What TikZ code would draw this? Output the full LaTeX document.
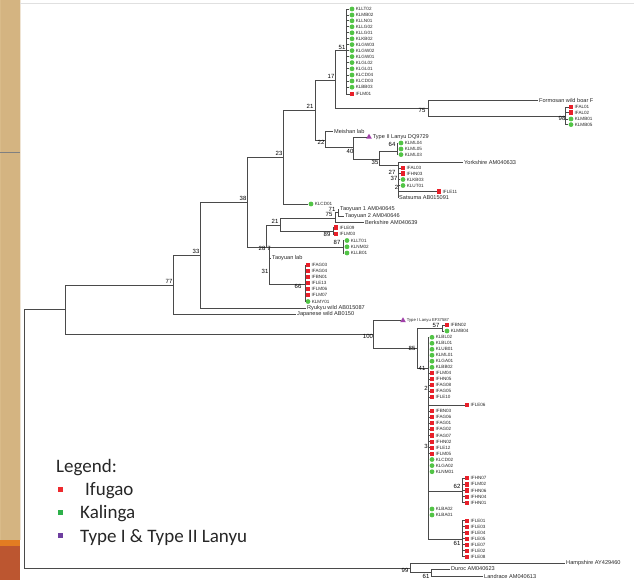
\documentclass[tikz,border=0pt]{standalone}
\usepackage{fontspec}
\setmainfont{Liberation Sans}
\newfontfamily\legfont{Carlito}
\usetikzlibrary{shapes.geometric}
\definecolor{ifred}{HTML}{E8202A}
\definecolor{klgreen}{HTML}{52C446}
\definecolor{lanyu}{HTML}{A040A8}
\definecolor{branch}{HTML}{4A4A4A}
\definecolor{wood}{HTML}{E0C594}
\definecolor{woodd}{HTML}{C9A571}
\definecolor{band}{HTML}{E27C22}
\definecolor{brick}{HTML}{BC5630}
\definecolor{legred}{HTML}{EE2A2E}
\definecolor{leggreen}{HTML}{2DB04A}
\definecolor{legpurple}{HTML}{6E3FA0}
\tikzset{
  br/.style={draw=branch, line width=0.75pt},
  rsq/.style={fill=ifred, minimum width=4.6pt, minimum height=4.2pt, inner sep=0pt},
  gdot/.style={circle, fill=klgreen, minimum size=4.8pt, inner sep=0pt},
  ptri/.style={regular polygon, regular polygon sides=3, fill=lanyu, minimum size=6.5pt, inner sep=0pt},
  idtx/.style={font=\fontsize{4.6}{5}\selectfont, inner sep=0pt, anchor=west, text=black!85},
  nmtx/.style={font=\fontsize{5.6}{6}\selectfont, inner xsep=1pt, inner ysep=0pt, anchor=west, text=black!85},
  bs/.style={font=\fontsize{6}{6}\selectfont, inner sep=0pt, text=black},
  leg/.style={font=\legfont\fontsize{19}{23}\selectfont, inner sep=0pt, anchor=base west, text=black!85},
  lsq/.style={minimum size=5pt, inner sep=0pt},
}
\newcommand\gleaf[4]{\node[gdot] (#2) at (#3,#4) {}; \node[idtx] (#2-t) at ([xshift=1pt]#2.east) {#2}; \draw[br] (#1) |- (#2);}
\newcommand\rleaf[4]{\node[rsq] (#2) at (#3,#4) {}; \node[idtx] (#2-t) at ([xshift=1pt]#2.east) {#2}; \draw[br] (#1) |- (#2);}
\begin{document}
\begin{tikzpicture}[x=1pt,y=-1pt]
\useasboundingbox (0,0) rectangle (634,580);
% side strip
\fill[wood] (0,0) rectangle (20,540);
\foreach \i in {1,...,40}{\pgfmathsetmacro\xx{0.5*\i}\draw[woodd, line width=0.3pt, opacity=0.3] (\xx,0) -- (\xx,540);}
\draw[gray, line width=0.6pt] (0,152) -- (20,152);
\fill[band] (0,540) rectangle (20,546);
\fill[brick] (0,546) rectangle (20,580);
\draw[black!12, line width=0.5pt] (20,3) -- (634,3);

% internal node coordinates
\coordinate (root) at (24,438);
\coordinate (nA) at (65,309);
\coordinate (n77) at (173,285);
\coordinate (n33) at (200,255);
\coordinate (n38) at (247,202);
\coordinate (n23) at (283,157);
\coordinate (n21) at (315,110);
\coordinate (n17) at (335,80);
\coordinate (n51) at (346,50);
\coordinate (n75) at (428,108);
\coordinate (n98) at (565,116);
\coordinate (n22) at (325,140);
\coordinate (n40) at (353,147);
\coordinate (n35) at (379,159);
\coordinate (n64) at (397,151);
\coordinate (n27) at (398,165);
\coordinate (n28) at (266,247);
\coordinate (n21b) at (280,225);
\coordinate (n75b) at (335,218);
\coordinate (n71) at (338,212.5);
\coordinate (n89) at (333,231);
\coordinate (n7) at (269,247);
\coordinate (n87) at (343,247);
\coordinate (n66) at (305,284);
\coordinate (n100) at (373,334);
\coordinate (n85) at (417,348);
\coordinate (n57) at (442,328);
\coordinate (n41) at (428,368);
\coordinate (n62) at (462,491);
\coordinate (n61) at (462,539);
\coordinate (n99) at (410,568);
\coordinate (n61b) at (431,572);

% internal edges
\draw[br] (root) |- (nA);
\draw[br] (root) |- (n99);
\draw[br] (nA) |- (n77);
\draw[br] (nA) |- (n100);
\draw[br] (n77) |- (n33);
\draw[br] (n33) |- (n38);
\draw[br] (n38) |- (n23);
\draw[br] (n38) |- (n28);
\draw[br] (n23) |- (n21);
\draw[br] (n21) |- (n17);
\draw[br] (n21) |- (n22);
\draw[br] (n17) |- (n51);
\draw[br] (n17) |- (n75);
\draw[br] (n75) |- (n98);
\draw[br] (n22) |- (n40);
\draw[br] (n40) |- (n35);
\draw[br] (n35) |- (n64);
\draw[br] (n35) |- (n27);
\draw[br] (n28) |- (n21b);
\draw[br] (n28) -- (n7);
\draw[br] (n21b) |- (n75b);
\draw[br] (n21b) |- (n89);
\draw[br] (n75b) |- (n71);
\draw[br] (n7) |- (n87);
\draw[br] (n7) |- (n66);
\draw[br] (n100) |- (n85);
\draw[br] (n85) |- (n57);
\draw[br] (n85) |- (n41);
\draw[br] (n41) |- (n62);
\draw[br] (n41) |- (n61);
\draw[br] (n99) |- (n61b);

% clade 51
\foreach \n/\y in {KLLT02/9, KLMB02/15, KLLN01/20.8, KLLG02/26.8, KLLG01/32.8, KLKB02/38.8, KLGW03/44.6, KLGW02/50.6, KLGW01/56.6, KLGL02/62.6, KLGL01/68.8, KLCD04/75, KLCD03/81, KLBB03/87.2}{\gleaf{n51}{\n}{352}{\y}}
\rleaf{n51}{IFLM01}{352}{94}
% clade 75 / 98
\node[nmtx] (Formosan) at (538,100) {Formosan wild boar F};
\draw[br] (n75) |- (Formosan);
\rleaf{n98}{IFAL01}{571}{107}
\rleaf{n98}{IFAL02}{571}{112.6}
\gleaf{n98}{KLMB01}{571}{119}
\gleaf{n98}{KLMB05}{571}{124.6}
% clade 22
\node[nmtx] (Meishan) at (333,131) {Meishan lab};
\draw[br] (n22) |- (Meishan);
\node[ptri] (TypeII) at (369,137) {};
\node[nmtx] (TypeIIt) at ([xshift=0.5pt]TypeII.east) {Type II Lanyu DQ9729};
\draw[br] (n40) |- (TypeII);
\gleaf{n64}{KLML04}{401}{143}
\gleaf{n64}{KLML05}{401}{149}
\gleaf{n64}{KLML03}{401}{154.6}
\node[nmtx] (Yorkshire) at (463,162) {Yorkshire AM040633};
\draw[br] (n27) |- (Yorkshire);
\rleaf{n27}{IFAL03}{403}{168}
\rleaf{n27}{IFHN03}{403}{173.6}
\gleaf{n27}{KLKB03}{403}{179.5}
\gleaf{n27}{KLUT01}{403}{185.5}
\rleaf{n27}{IFLE11}{439}{191.5}
\node[nmtx] (Satsuma) at (398,198) {Satsuma AB015091};
\draw[br] (n27) |- (Satsuma);
% KLCD01
\gleaf{n23}{KLCD01}{311}{204}
% clade 28
\node[nmtx] (Taoyuan1) at (339,209) {Taoyuan 1 AM040645};
\draw[br] (n71) |- (Taoyuan1);
\node[nmtx] (Taoyuan2) at (344,216) {Taoyuan 2 AM040646};
\draw[br] (n71) |- (Taoyuan2);
\node[nmtx] (Berkshire) at (364,222) {Berkshire AM040639};
\draw[br] (n75b) |- (Berkshire);
\rleaf{n89}{IFLE09}{336}{227.5}
\rleaf{n89}{IFLM03}{336}{234}
\gleaf{n87}{KLLT01}{347}{240.5}
\gleaf{n87}{KLNM02}{347}{246.8}
\gleaf{n87}{KLLB01}{347}{253}
\node[nmtx] (TaoyuanLab) at (271,258) {Taoyuan lab};
\draw[br] (n7) |- (TaoyuanLab);
\foreach \n/\y in {IFAG03/265, IFAG04/271, IFBN01/277, IFLE13/283, IFLM06/289, IFLM07/295}{\rleaf{n66}{\n}{308}{\y}}
\gleaf{n66}{KLMY01}{308}{301.5}
\node[nmtx] (Ryukyu) at (306,308) {Ryukyu wild AB015087};
\draw[br] (n33) |- (Ryukyu);
\node[nmtx] (Japanese) at (296,314) {Japanese wild AB0150};
\draw[br] (n77) |- (Japanese);
% clade 100
\node[ptri] (TypeI) at (403,320.5) {};
\node[nmtx, font=\fontsize{4.2}{5}\selectfont] (TypeIt) at ([xshift=0.5pt]TypeI.east) {Type I Lanyu EF37587};
\draw[br] (n100) |- (TypeI);
\rleaf{n57}{IFBN02}{447}{325}
\gleaf{n57}{KLMB04}{447}{331}
\foreach \n/\y in {KLBL02/337.3, KLBL01/343.3, KLUB01/349.3, KLML01/355.2, KLGA01/361.2, KLBB02/367.3}{\gleaf{n41}{\n}{432}{\y}}
\foreach \n/\y in {IFLM04/373.3, IFHN05/379.2, IFAG08/385.2, IFAG05/391.2, IFLE10/397, IFBN03/411, IFAG06/417.3, IFAG01/423.3, IFAG02/429.3, IFAG07/435.5, IFHN02/441.6, IFLE12/447.6, IFLM05/453.7}{\rleaf{n41}{\n}{432}{\y}}
\rleaf{n41}{IFLE06}{467}{405}
\foreach \n/\y in {KLCD02/459.5, KLGA02/465.6, KLNM01/471.7, KLBA02/509, KLBA01/515}{\gleaf{n41}{\n}{432}{\y}}
\foreach \n/\y in {IFHN07/478.3, IFLM02/484.4, IFHN06/490.5, IFHN04/496.6, IFHN01/502.7}{\rleaf{n62}{\n}{467}{\y}}
\foreach \n/\y in {IFLE01/520.7, IFLE03/526.7, IFLE04/532.7, IFLE05/538.7, IFLE07/544.7, IFLE02/550.7, IFLE08/556.7}{\rleaf{n61}{\n}{467}{\y}}
% outgroup
\node[nmtx] (Hampshire) at (565,563) {Hampshire AY429460};
\draw[br] (n99) |- (Hampshire);
\node[nmtx] (Duroc) at (450,569) {Duroc AM040623};
\draw[br] (n61b) |- (Duroc);
\node[nmtx] (Landrace) at (483,576) {Landrace AM040613};
\draw[br] (n61b) |- (Landrace);

% bootstrap values
\foreach \nm/\x/\y/\v in {b51/342/47/51, b17/331/76/17, b21/310/106/21, b23/279/153/23, b38/243/198/38, b33/196/251/33, b77/169/281/77, b75/422/110/75, b98/562/118/98, b22/321/142/22, b40/350/151/40, b64/392/144/64, b35/375/162/35, b27/392/172/27, b37/394/178/37, b2a/396.5/187/2, b71/332/209/71, b75b/329/214/75, b21b/275/221/21, b89/327/234/89, b87/337/242/87, b28/262/248/28, b7/269/248/7, b31/265/271/31, b66/298/286/66, b100/368/336/100, b57/436/325.5/57, b85/412/348/85, b41/422/368/41, b2b/426/388/2, b3/426/446/3, b62/457/486/62, b61/457/543/61, b99/405/570/99, b61b/426/576/61}{\node[bs] (\nm) at (\x,\y) {\v};}

% legend
\node[leg] (legT) at (56,472) {Legend:};
\node[lsq, fill=legred] (legR) at (60,489) {};
\node[leg] (legRt) at (85,495.3) {Ifugao};
\node[lsq, fill=leggreen] (legG) at (60,512) {};
\node[leg] (legGt) at (80,518.6) {Kalinga};
\node[lsq, fill=legpurple] (legP) at (60,535.5) {};
\node[leg] (legPt) at (80,542) {Type I \& Type II Lanyu};
\end{tikzpicture}
\end{document}
